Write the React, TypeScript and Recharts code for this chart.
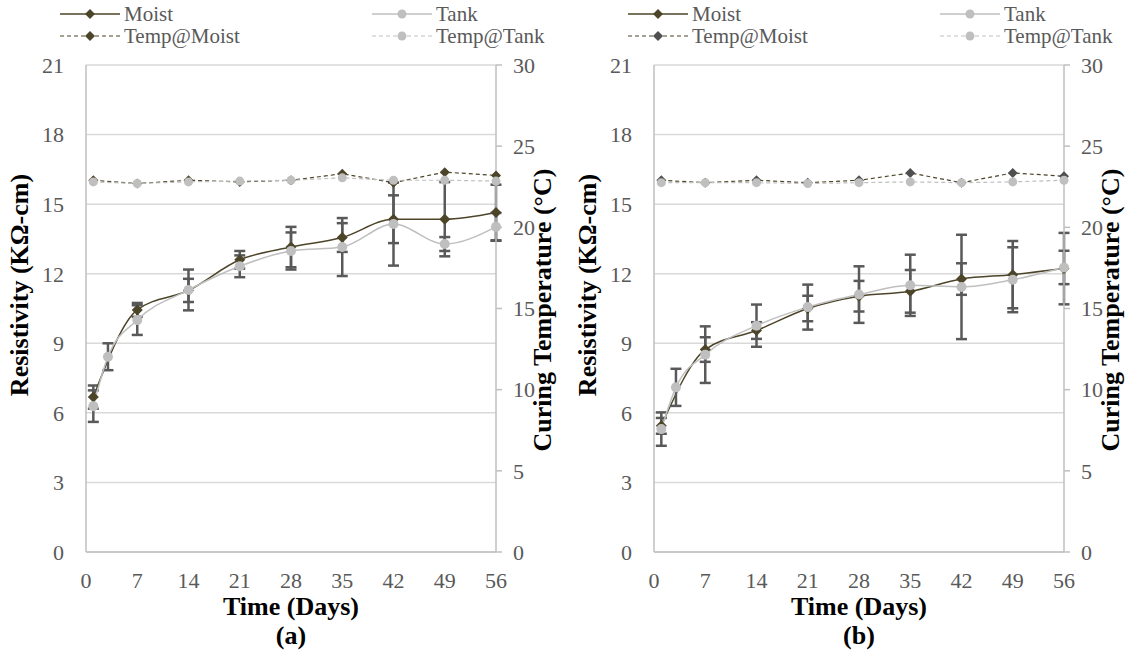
import React from "react";
import { ComposedChart, Line, XAxis, YAxis, CartesianGrid, ErrorBar } from "recharts";

const days = [1, 3, 7, 14, 21, 28, 35, 42, 49, 56];
const dayTicks = [0, 7, 14, 21, 28, 35, 42, 49, 56];
const resistivityTicks = [0, 3, 6, 9, 12, 15, 18, 21];
const temperatureTicks = [0, 5, 10, 15, 20, 25, 30];

// (a) resistivity, KΩ-cm, with standard deviation
const moistA = [6.68, null, 10.44, 11.28, 12.6, 13.15, 13.56, 14.35, 14.35, 14.64];
const moistErrA = [0.5, null, 0.3, 0.5, 0.38, 0.87, 0.62, 1.03, 1.6, 1.2];
const tankA = [6.29, 8.42, 10.0, 11.3, 12.32, 12.98, 13.15, 14.14, 13.28, 14.02];
const tankErrA = [0.68, 0.58, 0.64, 0.88, 0.47, 0.8, 1.25, 1.79, 0.3, 0.6];
// (a) curing temperature, °C
const tempMoistA = [22.9, null, 22.7, 22.9, 22.8, 22.9, 23.3, 22.75, 23.4, 23.2];
const tempTankA = [22.8, null, 22.7, 22.8, 22.85, 22.9, 23.05, 22.9, 22.9, 22.85];

// (b) resistivity, KΩ-cm, with standard deviation
const moistB = [5.44, null, 8.73, 9.55, 10.5, 11.03, 11.24, 11.77, 11.96, 12.22];
const moistErrB = [0.34, null, 0.53, 0.36, 0.55, 0.66, 0.92, 0.68, 1.45, 1.54];
const tankB = [5.3, 7.1, 8.51, 9.76, 10.56, 11.1, 11.5, 11.43, 11.74, 12.27];
const tankErrB = [0.72, 0.8, 1.22, 0.91, 0.97, 1.22, 1.32, 2.25, 1.4, 0.72];
// (b) curing temperature, °C
const tempMoistB = [22.9, null, 22.75, 22.9, 22.75, 22.9, 23.35, 22.75, 23.35, 23.15];
const tempTankB = [22.75, null, 22.75, 22.75, 22.7, 22.75, 22.8, 22.75, 22.8, 22.9];

const FONT = '"Liberation Serif", "Times New Roman", serif';
const TICK = "#595959";
const MOIST = "#4d4529";
const TANK = "#bfbfbf";
const ERR = "#595959";

type Val = number | null;

function buildRows(moist: Val[], moistErr: Val[], tank: Val[], tankErr: Val[], tempMoist: Val[], tempTank: Val[]) {
  return days.map((day, i) => ({
    day,
    moist: moist[i],
    moistErr: moistErr[i],
    tank: tank[i],
    tankErr: tankErr[i],
    tempMoist: tempMoist[i],
    tempTank: tempTank[i],
  }));
}

const diamondDot = (fill: string, r: number) => (props: any) => {
  const { cx, cy, index, value } = props;
  if (cx == null || cy == null || value == null) return <g key={`d${index}`} />;
  return (
    <path
      key={`d${index}`}
      d={`M${cx},${cy - r}L${cx + r},${cy}L${cx},${cy + r}L${cx - r},${cy}Z`}
      fill={fill}
    />
  );
};

function LegendIcon({ dashed, color, marker, markerColor }: { dashed?: boolean; color: string; marker: "diamond" | "circle"; markerColor: string }) {
  return (
    <svg width={60} height={12} style={{ display: "block" }}>
      <line x1={0} y1={6} x2={60} y2={6} stroke={color} strokeWidth={dashed ? 1.2 : 1.5} strokeDasharray={dashed ? "4 3" : undefined} />
      {marker === "diamond" ? (
        <path d="M30,1L35,6L30,11L25,6Z" fill={markerColor} />
      ) : (
        <circle cx={30} cy={6} r={4.5} fill={markerColor} />
      )}
    </svg>
  );
}

function LegendItem({ x, y, label, children }: { x: number; y: number; label: string; children: React.ReactNode }) {
  return (
    <div style={{ position: "absolute", left: x, top: y - 12, height: 24, display: "flex", alignItems: "center", gap: 4 }}>
      {children}
      <span style={{ fontFamily: FONT, fontSize: 21, color: TICK, lineHeight: "24px" }}>{label}</span>
    </div>
  );
}

type PanelProps = {
  left: number;
  tag: string;
  moist: Val[];
  moistErr: Val[];
  tank: Val[];
  tankErr: Val[];
  tempMoist: Val[];
  tempTank: Val[];
  tempMoistMarker: string;
};

function Panel({ left, tag, moist, moistErr, tank, tankErr, tempMoist, tempTank, tempMoistMarker }: PanelProps) {
  const rows = buildRows(moist, moistErr, tank, tankErr, tempMoist, tempTank);
  const tickStyle = { fontFamily: FONT, fontSize: 22, fill: TICK };
  const titleStyle: React.CSSProperties = {
    position: "absolute",
    fontFamily: FONT,
    fontWeight: "bold",
    fontSize: 26,
    color: "#000",
    whiteSpace: "nowrap",
    lineHeight: "22px",
  };
  return (
    <div style={{ position: "absolute", left, top: 0, width: 570, height: 650 }}>
      <LegendItem x={60} y={14} label="Moist">
        <LegendIcon color={MOIST} marker="diamond" markerColor={MOIST} />
      </LegendItem>
      <LegendItem x={372} y={14} label="Tank">
        <LegendIcon color={TANK} marker="circle" markerColor={TANK} />
      </LegendItem>
      <LegendItem x={60} y={36} label="Temp@Moist">
        <LegendIcon dashed color={MOIST} marker="diamond" markerColor={tempMoistMarker} />
      </LegendItem>
      <LegendItem x={372} y={36} label="Temp@Tank">
        <LegendIcon dashed color={TANK} marker="circle" markerColor={TANK} />
      </LegendItem>

      <ComposedChart width={570} height={650} data={rows} margin={{ top: 65, right: 14, bottom: 58, left: 26 }}>
        <CartesianGrid yAxisId="res" vertical={false} stroke="#d9d9d9" strokeWidth={1.5} />
        <XAxis
          dataKey="day"
          type="number"
          domain={[0, 56]}
          ticks={dayTicks}
          height={40}
          axisLine={{ stroke: "#bfbfbf", strokeWidth: 1.5 }}
          tickLine={false}
          tickSize={6}
          tickMargin={14}
          tick={tickStyle}
        />
        <YAxis
          yAxisId="res"
          domain={[0, 21]}
          ticks={resistivityTicks}
          width={60}
          axisLine={{ stroke: "#bfbfbf", strokeWidth: 1.5 }}
          tickLine={false}
          tickSize={6}
          tickMargin={16}
          tick={tickStyle}
        />
        <YAxis
          yAxisId="temp"
          orientation="right"
          domain={[0, 30]}
          ticks={temperatureTicks}
          width={60}
          axisLine={{ stroke: "#bfbfbf", strokeWidth: 1.5 }}
          tickLine={{ stroke: "#bfbfbf", strokeWidth: 1.5 }}
          tickSize={6}
          tickMargin={11}
          tick={tickStyle}
        />
        <Line
          yAxisId="res"
          dataKey="moist"
          type="monotone"
          stroke={MOIST}
          strokeWidth={1.5}
          connectNulls
          dot={diamondDot(MOIST, 5.5)}
          isAnimationActive={false}
        >
          <ErrorBar dataKey="moistErr" direction="y" width={5.5} stroke={ERR} strokeWidth={2.5} />
        </Line>
        <Line
          yAxisId="res"
          dataKey="tank"
          type="monotone"
          stroke={TANK}
          strokeWidth={1.5}
          connectNulls
          dot={{ r: 5, fill: TANK, stroke: "none" }}
          isAnimationActive={false}
        >
          <ErrorBar dataKey="tankErr" direction="y" width={5.5} stroke={ERR} strokeWidth={2.5} />
        </Line>
        <Line
          yAxisId="temp"
          dataKey="tempMoist"
          type="linear"
          stroke={MOIST}
          strokeWidth={1.2}
          strokeDasharray="4 3"
          connectNulls
          dot={diamondDot(tempMoistMarker, 5)}
          isAnimationActive={false}
        />
        <Line
          yAxisId="temp"
          dataKey="tempTank"
          type="linear"
          stroke={TANK}
          strokeWidth={1.2}
          strokeDasharray="4 3"
          connectNulls
          dot={{ r: 4.5, fill: TANK, stroke: "none" }}
          isAnimationActive={false}
        />
      </ComposedChart>

      <div style={{ ...titleStyle, left: 20, top: 285, transform: "translate(-50%, -50%) rotate(-90deg)" }}>
        Resistivity (KΩ-cm)
      </div>
      <div style={{ ...titleStyle, left: 543, top: 310, transform: "translate(-50%, -50%) rotate(-90deg)" }}>
        Curing Temperature (°C)
      </div>
      <div style={{ ...titleStyle, left: 291, top: 607, transform: "translate(-50%, -50%)" }}>Time (Days)</div>
      <div style={{ ...titleStyle, left: 291, top: 636, transform: "translate(-50%, -50%)" }}>{tag}</div>
    </div>
  );
}

export default function App() {
  return (
    <div style={{ position: "absolute", left: 0, top: 0, width: 1142, height: 650, background: "#fff", overflow: "hidden" }}>
      <Panel
        left={0}
        tag="(a)"
        moist={moistA}
        moistErr={moistErrA}
        tank={tankA}
        tankErr={tankErrA}
        tempMoist={tempMoistA}
        tempTank={tempTankA}
        tempMoistMarker={MOIST}
      />
      <Panel
        left={568}
        tag="(b)"
        moist={moistB}
        moistErr={moistErrB}
        tank={tankB}
        tankErr={tankErrB}
        tempMoist={tempMoistB}
        tempTank={tempTankB}
        tempMoistMarker="#4f4f4f"
      />
    </div>
  );
}
